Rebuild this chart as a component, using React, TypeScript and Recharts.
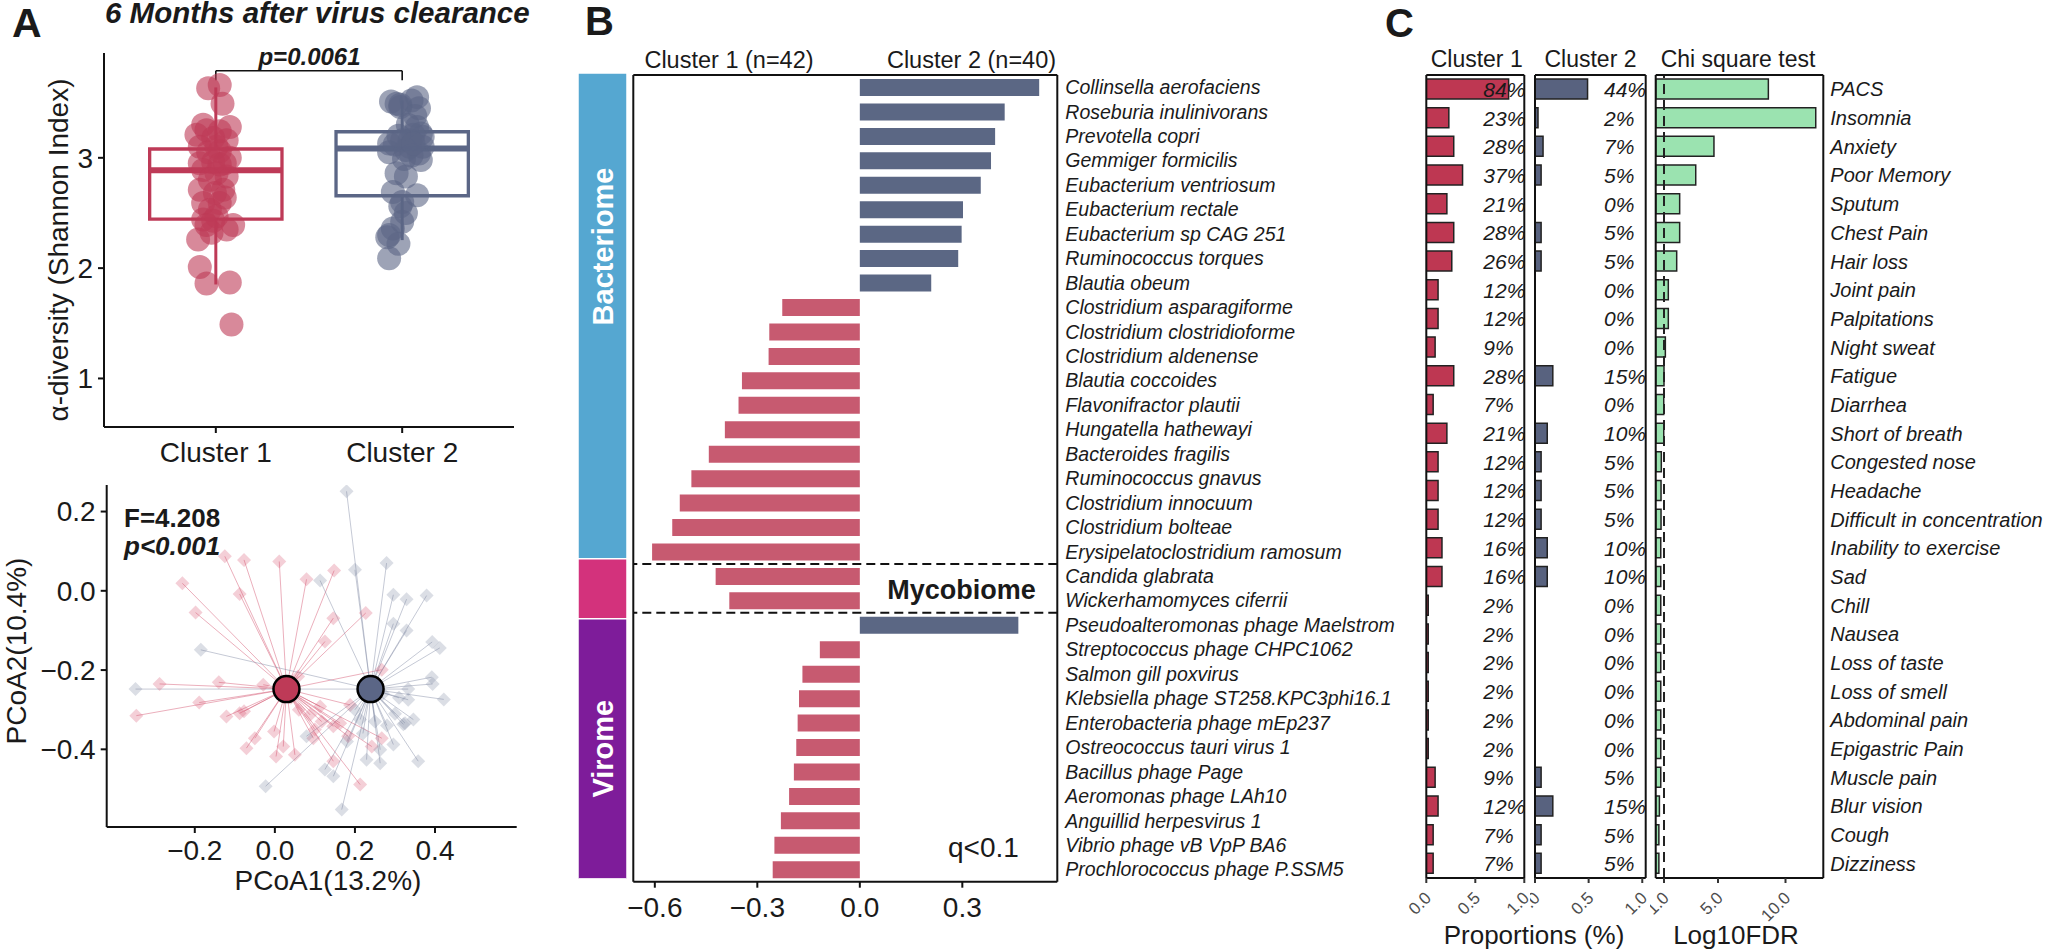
import React from 'react';
import {
  ComposedChart,
  BarChart,
  Bar,
  Scatter,
  XAxis,
  YAxis,
  ReferenceArea,
  ReferenceLine,
  Cell,
} from 'recharts';

const FONT = "'Liberation Sans', Arial, Helvetica, sans-serif";
const RED = '#BE3A57';
const BLUE = '#5B6686';
const BAR_RED = '#C75A70';
const BAR_BLUE = '#5B6784';
const INK = '#1a1a1a';

// ---- Panel A (top): Shannon index, [jitter x, value]
const shannonC1 = [
  [0.959, 3.63], [1.021, 3.66], [1.036, 3.49], [1.075, 3.28], [0.932, 3.3], [0.896, 3.21],
  [0.986, 3.18], [1.058, 3.16], [0.914, 3.1], [0.959, 3.05], [1.021, 3.06], [0.914, 2.95],
  [0.986, 2.96], [1.048, 2.95], [0.932, 2.89], [1.004, 2.86], [1.058, 2.83], [0.914, 2.71],
  [1.04, 2.71], [1.021, 2.59], [0.968, 2.53], [0.932, 2.44], [0.986, 2.43], [1.058, 2.35],
  [0.905, 2.26], [0.977, 2.32], [0.914, 2.01], [0.95, 1.86], [1.075, 1.87], [1.084, 1.49],
  [1.021, 3.24], [0.95, 3.25], [1.004, 3.1], [1.075, 3.0], [1.021, 2.94], [0.968, 2.8],
  [0.932, 2.59], [1.004, 2.47], [1.048, 2.64], [0.95, 2.39], [0.995, 2.68], [1.093, 2.39],
];
const shannonC2 = [
  [1.94, 3.51], [2.08, 3.55], [1.97, 3.49], [2.05, 3.52], [1.99, 3.46], [2.09, 3.45],
  [2.08, 3.28], [2.1, 3.22], [1.93, 3.13], [2.0, 3.16], [2.04, 3.1], [2.11, 3.1],
  [1.93, 3.05], [2.09, 3.04], [2.01, 2.99], [2.1, 2.98], [1.97, 2.86], [2.02, 2.83],
  [2.08, 2.66], [1.99, 2.56], [2.0, 2.42], [1.93, 2.3], [1.98, 2.22], [1.93, 2.09],
  [2.11, 3.19], [2.06, 3.21], [2.04, 3.16], [2.02, 3.07], [1.96, 3.12], [2.05, 3.02],
  [1.99, 3.48], [2.07, 3.38], [1.95, 2.69], [2.0, 2.6], [1.95, 2.36], [2.03, 3.3],
  [1.98, 3.2], [2.06, 3.13], [1.92, 2.28], [2.02, 2.5],
];
// [cluster, whisker low, q1, median, q3, whisker high]
const boxStats = [
  [1, 1.852, 2.444, 2.888, 3.08, 3.638],
  [2, 2.254, 2.656, 3.085, 3.236, 3.52],
];
const boxColors = [RED, BLUE];
const pBracket = [3.704, 3.789];

// ---- Panel A (bottom): PCoA
const pcoaC1 = [
  [-0.125, 0.087], [-0.077, 0.078], [0.011, 0.074], [-0.231, 0.019], [-0.088, -0.008], [0.079, 0.029],
  [0.148, 0.051], [-0.198, -0.055], [0.146, -0.069], [0.227, -0.056], [0.125, -0.128], [-0.288, -0.235],
  [-0.14, -0.231], [-0.189, -0.282], [-0.346, -0.315], [-0.121, -0.317], [-0.088, -0.309], [-0.077, -0.304],
  [-0.05, -0.372], [-0.071, -0.397], [-0.002, -0.355], [0.021, -0.393], [0.003, -0.418], [0.05, -0.414],
  [0.088, -0.313], [0.096, -0.372], [0.117, -0.33], [0.146, -0.342], [0.163, -0.334], [0.183, -0.367],
  [0.188, -0.288], [0.267, -0.199], [0.242, -0.393], [0.267, -0.372], [0.213, -0.489], [0.146, -0.43],
  [0.058, -0.216], [0.113, -0.292], [-0.029, -0.237], [0.06, -0.3], [0.1, -0.35], [0.04, -0.27],
];
const pcoaC2 = [
  [0.179, 0.251], [0.2, 0.053], [0.279, 0.07], [0.113, 0.026], [0.296, -0.01], [0.329, -0.021],
  [0.296, -0.083], [0.329, -0.1], [-0.185, -0.149], [-0.348, -0.248], [0.333, -0.248], [0.333, -0.275],
  [0.325, -0.334], [0.346, -0.325], [0.213, -0.325], [0.079, -0.367], [0.229, -0.426], [0.263, -0.435],
  [0.296, -0.388], [0.125, -0.451], [0.146, -0.468], [-0.023, -0.493], [0.167, -0.552], [0.358, -0.43],
  [0.263, -0.401], [0.379, -0.012], [0.393, -0.129], [0.412, -0.144], [0.392, -0.218], [0.394, -0.235],
  [0.422, -0.274], [0.321, -0.337], [0.27, -0.26], [0.3, -0.31], [0.28, -0.34], [0.25, -0.33],
  [0.2, -0.3], [0.22, -0.36], [0.18, -0.38], [0.31, -0.27],
];
const centroids = [[0.029, -0.248], [0.239, -0.248]];

// ---- Panel B: differential taxa
const taxa = [
  'Collinsella aerofaciens', 'Roseburia inulinivorans', 'Prevotella copri', 'Gemmiger formicilis',
  'Eubacterium ventriosum', 'Eubacterium rectale', 'Eubacterium sp CAG 251', 'Ruminococcus torques',
  'Blautia obeum', 'Clostridium asparagiforme', 'Clostridium clostridioforme', 'Clostridium aldenense',
  'Blautia coccoides', 'Flavonifractor plautii', 'Hungatella hathewayi', 'Bacteroides fragilis',
  'Ruminococcus gnavus', 'Clostridium innocuum', 'Clostridium bolteae', 'Erysipelatoclostridium ramosum',
  'Candida glabrata', 'Wickerhamomyces ciferrii', 'Pseudoalteromonas phage Maelstrom',
  'Streptococcus phage CHPC1062', 'Salmon gill poxvirus', 'Klebsiella phage ST258.KPC3phi16.1',
  'Enterobacteria phage mEp237', 'Ostreococcus tauri virus 1', 'Bacillus phage Page',
  'Aeromonas phage LAh10', 'Anguillid herpesvirus 1', 'Vibrio phage vB VpP BA6',
  'Prochlorococcus phage P.SSM5',
];
const effect = [
  0.525, 0.424, 0.396, 0.384, 0.354, 0.302, 0.298, 0.288, 0.209, -0.227, -0.265, -0.267,
  -0.345, -0.355, -0.395, -0.442, -0.493, -0.527, -0.549, -0.608, -0.422, -0.382, 0.464,
  -0.117, -0.168, -0.178, -0.182, -0.186, -0.193, -0.207, -0.231, -0.25, -0.255,
];
const omes = ['Bacteriome', 'Mycobiome', 'Virome'];
const omeSpan = [19.9, 2.45, 10.65];
const omeColors = ['#55A7D1', '#D3327C', '#7E1C9A'];

// ---- Panel C: symptoms
const symptoms = [
  'PACS', 'Insomnia', 'Anxiety', 'Poor Memory', 'Sputum', 'Chest Pain', 'Hair loss', 'Joint pain',
  'Palpitations', 'Night sweat', 'Fatigue', 'Diarrhea', 'Short of breath', 'Congested nose',
  'Headache', 'Difficult in concentration', 'Inability to exercise', 'Sad', 'Chill', 'Nausea',
  'Loss of taste', 'Loss of smell', 'Abdominal pain', 'Epigastric Pain', 'Muscle pain',
  'Blur vision', 'Cough', 'Dizziness',
];
const c1Pct = [84, 23, 28, 37, 21, 28, 26, 12, 12, 9, 28, 7, 21, 12, 12, 12, 16, 16, 2, 2, 2, 2, 2, 2, 9, 12, 7, 7];
const c2Pct = [44, 2, 7, 5, 0, 5, 5, 0, 0, 0, 15, 0, 10, 5, 5, 5, 10, 10, 0, 0, 0, 0, 0, 0, 5, 15, 5, 5];
const c2Bar = [
  0.49, 0.028, 0.075, 0.057, 0, 0.057, 0.057, 0, 0, 0, 0.166, 0, 0.114, 0.057, 0.057, 0.057,
  0.114, 0.114, 0, 0, 0, 0, 0, 0, 0.057, 0.166, 0.057, 0.057,
];
const log10Fdr = [
  8.73, 12.24, 4.7, 3.35, 2.16, 2.16, 1.94, 1.32, 1.32, 1.1, 1.0, 0.98, 0.98, 0.8, 0.78, 0.78,
  0.76, 0.76, 0.76, 0.76, 0.76, 0.76, 0.76, 0.76, 0.76, 0.66, 0.62, 0.62,
];

const fmt1 = (v: number) => (v < 0 ? '\u2212' : '') + Math.abs(v).toFixed(1);
const axisLine = { stroke: '#111', strokeWidth: 2 };
const boxHalf = 0.355;

const pos = (left: number, top: number): React.CSSProperties => ({ position: 'absolute', left, top });

function AlphaPanel() {
  const red = shannonC1.map(([x, y]) => ({ x, y }));
  const blue = shannonC2.map(([x, y]) => ({ x, y }));
  const dot = (fill: string) => (p: any) => (
    <circle cx={p.cx} cy={p.cy} r={12} fill={fill} fillOpacity={0.6} />
  );
  return (
    <ComposedChart width={560} height={480} margin={{ top: 53, right: 46, bottom: 0, left: 0 }}>
      <XAxis
        type="number" dataKey="x" domain={[0.4, 2.6]} ticks={[1, 2]} allowDataOverflow
        tickFormatter={(v: number) => (v === 1 ? 'Cluster 1' : 'Cluster 2')}
        height={53} tickSize={6} tickMargin={9} axisLine={axisLine} tickLine={axisLine}
        tick={{ fontSize: 28, fill: INK, fontFamily: FONT }}
      />
      <YAxis
        type="number" dataKey="y" domain={[0.56, 3.95]} ticks={[1, 2, 3]} allowDataOverflow
        width={104} tickSize={6} tickMargin={5} axisLine={axisLine} tickLine={axisLine}
        tick={{ fontSize: 28, fill: INK, fontFamily: FONT }}
      />
      <Scatter data={red} shape={dot(RED)} isAnimationActive={false} />
      <Scatter data={blue} shape={dot(BLUE)} isAnimationActive={false} />
      {boxStats.map(([c, lo, q1, med, q3, hi], i) => (
        <React.Fragment key={i}>
          <ReferenceArea x1={c - boxHalf} x2={c + boxHalf} y1={q1} y2={q3} fill="none" fillOpacity={0} stroke={boxColors[i]} strokeWidth={3.3} />
          <ReferenceLine segment={[{ x: c - boxHalf, y: med }, { x: c + boxHalf, y: med }]} stroke={boxColors[i]} strokeWidth={6} />
          <ReferenceLine segment={[{ x: c, y: lo }, { x: c, y: q1 }]} stroke={boxColors[i]} strokeWidth={3} />
          <ReferenceLine segment={[{ x: c, y: q3 }, { x: c, y: hi }]} stroke={boxColors[i]} strokeWidth={3} />
        </React.Fragment>
      ))}
      <ReferenceLine segment={[{ x: 1, y: pBracket[0] }, { x: 1, y: pBracket[1] }]} stroke="#111" strokeWidth={1.6} />
      <ReferenceLine segment={[{ x: 1, y: pBracket[1] }, { x: 2, y: pBracket[1] }]} stroke="#111" strokeWidth={1.6} />
      <ReferenceLine segment={[{ x: 2, y: pBracket[0] }, { x: 2, y: pBracket[1] }]} stroke="#111" strokeWidth={1.6} />
    </ComposedChart>
  );
}

function PcoaPanel() {
  const red = pcoaC1.map(([x, y]) => ({ x, y }));
  const blue = pcoaC2.map(([x, y]) => ({ x, y }));
  const diamond = (fill: string, op: number) => (p: any) => (
    <path
      d={`M${p.cx},${p.cy - 7}L${p.cx + 7},${p.cy}L${p.cx},${p.cy + 7}L${p.cx - 7},${p.cy}Z`}
      fill={fill} fillOpacity={op}
    />
  );
  const big = (fill: string) => (p: any) => (
    <circle cx={p.cx} cy={p.cy} r={13} fill={fill} stroke="#000" strokeWidth={2.5} />
  );
  return (
    <ComposedChart width={560} height={440} margin={{ top: 15, right: 43.3, bottom: 0, left: 0 }}>
      <XAxis
        type="number" dataKey="x" domain={[-0.42, 0.604]} ticks={[-0.2, 0, 0.2, 0.4]} allowDataOverflow
        tickFormatter={fmt1} height={83} tickSize={6} tickMargin={7} axisLine={axisLine} tickLine={axisLine}
        tick={{ fontSize: 28, fill: INK, fontFamily: FONT }}
      />
      <YAxis
        type="number" dataKey="y" domain={[-0.596, 0.267]} ticks={[-0.4, -0.2, 0, 0.2]} allowDataOverflow
        tickFormatter={fmt1} width={106.7} tickSize={6} tickMargin={5} axisLine={axisLine} tickLine={axisLine}
        tick={{ fontSize: 28, fill: INK, fontFamily: FONT }}
      />
      {pcoaC1.map(([x, y], i) => (
        <ReferenceLine key={'r' + i} segment={[{ x, y }, { x: centroids[0][0], y: centroids[0][1] }]} stroke="#D7607A" strokeOpacity={0.5} strokeWidth={1} />
      ))}
      {pcoaC2.map(([x, y], i) => (
        <ReferenceLine key={'b' + i} segment={[{ x, y }, { x: centroids[1][0], y: centroids[1][1] }]} stroke="#7E88A2" strokeOpacity={0.45} strokeWidth={1} />
      ))}
      <Scatter data={red} shape={diamond('#D9546E', 0.28)} isAnimationActive={false} />
      <Scatter data={blue} shape={diamond('#7F8AA3', 0.28)} isAnimationActive={false} />
      <Scatter data={[{ x: centroids[0][0], y: centroids[0][1] }]} shape={big(RED)} isAnimationActive={false} />
      <Scatter data={[{ x: centroids[1][0], y: centroids[1][1] }]} shape={big(BLUE)} isAnimationActive={false} />
    </ComposedChart>
  );
}

function OmeStrip() {
  const row: Record<string, any> = { k: 'ome' };
  omes.forEach((o, i) => (row[o] = omeSpan[i]));
  const label = (name: string, frac: number) => (p: any) => {
    const top = Math.min(p.y, p.y + p.height);
    const h = Math.abs(p.height);
    const cx = p.x + p.width / 2;
    const cy = top + h * frac;
    return (
      <text x={cx} y={cy} transform={`rotate(-90 ${cx} ${cy})`} textAnchor="middle" dy="0.36em"
        fill="#fff" fontWeight="bold" fontSize={29} fontFamily={FONT}>{name}</text>
    );
  };
  return (
    <BarChart width={48.5} height={805.7} data={[row]} margin={{ top: 0, right: 0, bottom: 0, left: 0 }} barCategoryGap={0}>
      <XAxis dataKey="k" hide />
      <YAxis hide type="number" domain={[0, 33]} reversed allowDataOverflow />
      <Bar dataKey="Bacteriome" stackId="s" fill={omeColors[0]} stroke="#fff" strokeWidth={1.5} isAnimationActive={false} label={label('Bacteriome', 0.357)} />
      <Bar dataKey="Mycobiome" stackId="s" fill={omeColors[1]} stroke="#fff" strokeWidth={1.5} isAnimationActive={false} />
      <Bar dataKey="Virome" stackId="s" fill={omeColors[2]} stroke="#fff" strokeWidth={1.5} isAnimationActive={false} label={label('Virome', 0.5)} />
    </BarChart>
  );
}

// plain italic tick text for the long name axes
const nameTick = (size: number) => (p: any) => (
  <text x={p.x} y={p.y} dy="0.355em" textAnchor="start" fontSize={size} fontStyle="italic" fill={INK} fontFamily={FONT}>
    {p.payload.value}
  </text>
);

function TaxaPanel() {
  const data = taxa.map((name, i) => ({ name, v: effect[i] }));
  const dom: [number, number] = [-0.663, 0.578];
  return (
    <BarChart layout="vertical" width={860} height={951} data={data} margin={{ top: 74, right: 0, bottom: 0, left: 32.3 }}>
      <XAxis
        type="number" domain={dom} ticks={[-0.6, -0.3, 0, 0.3]} allowDataOverflow tickFormatter={fmt1}
        height={69.3} tickSize={6} tickMargin={9} axisLine={axisLine} tickLine={axisLine}
        tick={{ fontSize: 28, fill: INK, fontFamily: FONT }}
      />
      <XAxis xAxisId="top" orientation="top" type="number" domain={dom} allowDataOverflow height={1} tick={false} tickLine={false} axisLine={axisLine} />
      <YAxis yAxisId="L" type="category" dataKey="name" width={1} tick={false} tickLine={false} axisLine={axisLine} />
      <YAxis
        yAxisId="R" type="category" dataKey="name" orientation="right" width={402.7} interval={0}
        tickLine={false} tickSize={0} tickMargin={8} axisLine={axisLine} tick={nameTick(19.5)}
      />
      <Bar yAxisId="R" dataKey="v" barSize={17} isAnimationActive={false}>
        {data.map((d, i) => (
          <Cell key={i} fill={d.v >= 0 ? BAR_BLUE : BAR_RED} />
        ))}
      </Bar>
      <ReferenceLine yAxisId="R" y="Candida glabrata" position="start" stroke="#111" strokeWidth={2} strokeDasharray="9 5" />
      <ReferenceLine yAxisId="R" y="Pseudoalteromonas phage Maelstrom" position="start" stroke="#111" strokeWidth={2} strokeDasharray="9 5" />
    </BarChart>
  );
}

const RotTick = (props: any) => {
  const { x, y, payload } = props;
  const ax = x + 6;
  const ay = y + 16;
  return (
    <text x={ax} y={ay} transform={`rotate(-45 ${ax} ${ay})`} textAnchor="end" fontSize={17} fill="#4D4D4D" fontFamily={FONT}>
      {Number(payload.value).toFixed(1)}
    </text>
  );
};

// percentage text drawn as tick of the left-hand axis, pushed into the panel
const pctTick = (pcts: number[], dx: number) => (p: any) => {
  const i = symptoms.indexOf(p.payload.value);
  return (
    <g transform={`translate(${p.x + dx},${p.y})`}>
      <text x={0} y={0} dy="0.36em" textAnchor="start" style={{ textAnchor: 'start' }}
        fontSize={21} fontStyle="italic" fill={INK} fontFamily={FONT}>
        {pcts[i]}%
      </text>
    </g>
  );
};

const cRows = symptoms.map((name, i) => ({
  name,
  c1: c1Pct[i] / 100,
  c2: c2Bar[i],
  fdr: log10Fdr[i],
}));

function PropPanel({ keyV, pcts, color, width, marginLeft, plotW, domMax, labelDx }: any) {
  const dom: [number, number] = [0, domMax];
  return (
    <BarChart layout="vertical" width={width} height={951} data={cRows}
      margin={{ top: 74, right: width - marginLeft - plotW - 1, bottom: 0, left: marginLeft - 1 }}>
      <XAxis type="number" domain={dom} ticks={[0, 0.5, 1]} allowDataOverflow height={73} tickSize={5} tickMargin={0}
        axisLine={axisLine} tickLine={{ stroke: '#333', strokeWidth: 2 }} tick={<RotTick />} interval={0} />
      <XAxis xAxisId="top" orientation="top" type="number" domain={dom} allowDataOverflow height={1} tick={false} tickLine={false} axisLine={axisLine} />
      <YAxis yAxisId="L" type="category" dataKey="name" width={1} interval={0} tickLine={false} tickSize={0} tickMargin={0}
        axisLine={axisLine} tick={pctTick(pcts, labelDx)} />
      <YAxis yAxisId="R" type="category" dataKey="name" orientation="right" width={1} tick={false} tickLine={false} axisLine={axisLine} />
      <Bar yAxisId="L" dataKey={keyV} barSize={20} fill={color} stroke="#222" strokeWidth={1.5} isAnimationActive={false} />
    </BarChart>
  );
}

function ChiPanel() {
  const dom: [number, number] = [0.385, 12.8];
  return (
    <BarChart layout="vertical" width={397} height={951} data={cRows}
      margin={{ top: 74, right: 0, bottom: 0, left: 4.7 }}>
      <XAxis type="number" domain={dom} ticks={[1, 5, 10]} allowDataOverflow height={73} tickSize={5} tickMargin={0}
        axisLine={axisLine} tickLine={{ stroke: '#333', strokeWidth: 2 }} tick={<RotTick />} interval={0} />
      <XAxis xAxisId="top" orientation="top" type="number" domain={dom} allowDataOverflow height={1} tick={false} tickLine={false} axisLine={axisLine} />
      <YAxis yAxisId="L" type="category" dataKey="name" width={1} tick={false} tickLine={false} axisLine={axisLine} />
      <YAxis
        yAxisId="R" type="category" dataKey="name" orientation="right" width={223.7} interval={0}
        tickLine={false} tickSize={0} tickMargin={7} axisLine={axisLine} tick={nameTick(20)}
      />
      <Bar yAxisId="R" dataKey="fdr" barSize={20} fill="#9BE3B0" stroke="#222" strokeWidth={1.5} isAnimationActive={false} />
      <ReferenceLine yAxisId="R" x={1} stroke="#222" strokeWidth={2} strokeDasharray="10 6" />
    </BarChart>
  );
}

const T = (p: any) => <text fontFamily={FONT} fill={INK} {...p} />;

function Overlay() {
  return (
    <svg width={2047} height={951} style={{ position: 'absolute', left: 0, top: 0, pointerEvents: 'none' }}>
      <T x={12} y={37} fontSize={41} fontWeight="bold">A</T>
      <T x={105} y={23} fontSize={29.5} fontWeight="bold" fontStyle="italic">6 Months after virus clearance</T>
      <T x={309.5} y={65} fontSize={24} fontWeight="bold" fontStyle="italic" textAnchor="middle">p=0.0061</T>
      <T x={68} y={250} fontSize={28} textAnchor="middle" transform="rotate(-90 68 250)">α-diversity (Shannon Index)</T>
      <T x={124} y={527} fontSize={26} fontWeight="bold">F=4.208</T>
      <T x={124} y={555} fontSize={26} fontWeight="bold" fontStyle="italic">p&lt;0.001</T>
      <T x={26} y={651} fontSize={28} textAnchor="middle" transform="rotate(-90 26 651)">PCoA2(10.4%)</T>
      <T x={328} y={890} fontSize={28} textAnchor="middle">PCoA1(13.2%)</T>

      <T x={585} y={35} fontSize={40} fontWeight="bold">B</T>
      <T x={729} y={68} fontSize={23.5} textAnchor="middle">Cluster 1 (n=42)</T>
      <T x={971.5} y={68} fontSize={23.5} textAnchor="middle">Cluster 2 (n=40)</T>
      <T x={961.5} y={599} fontSize={27} fontWeight="bold" textAnchor="middle">Mycobiome</T>
      <T x={948} y={857} fontSize={28}>q&lt;0.1</T>

      <T x={1385} y={37} fontSize={40} fontWeight="bold">C</T>
      <T x={1476.7} y={67} fontSize={23} textAnchor="middle">Cluster 1</T>
      <T x={1590.5} y={67} fontSize={23} textAnchor="middle">Cluster 2</T>
      <T x={1738} y={67} fontSize={23} textAnchor="middle">Chi square test</T>
      <T x={1534} y={944} fontSize={26} textAnchor="middle">Proportions (%)</T>
      <T x={1736} y={944} fontSize={26} textAnchor="middle">Log10FDR</T>
    </svg>
  );
}

export default function App() {
  return (
    <div style={{ position: 'relative', width: 2047, height: 951, background: '#fff', fontFamily: FONT, overflow: 'hidden' }}>
      <style>{'body{margin:0}'}</style>
      <div style={pos(0, 0)}><AlphaPanel /></div>
      <div style={pos(0, 470)}><PcoaPanel /></div>
      <div style={pos(578.2, 73.3)}><OmeStrip /></div>
      <div style={pos(600, 0)}><TaxaPanel /></div>
      <div style={pos(1400, 0)}>
        <PropPanel keyV="c1" pcts={c1Pct} color="#BE3752" width={130} marginLeft={26.3} plotW={98} domMax={1} labelDx={57} />
      </div>
      <div style={pos(1530, 0)}>
        <PropPanel keyV="c2" pcts={c2Pct} color="#58627F" width={120} marginLeft={5} plotW={110.7} domMax={1.032} labelDx={69} />
      </div>
      <div style={pos(1650, 0)}><ChiPanel /></div>
      <Overlay />
    </div>
  );
}
